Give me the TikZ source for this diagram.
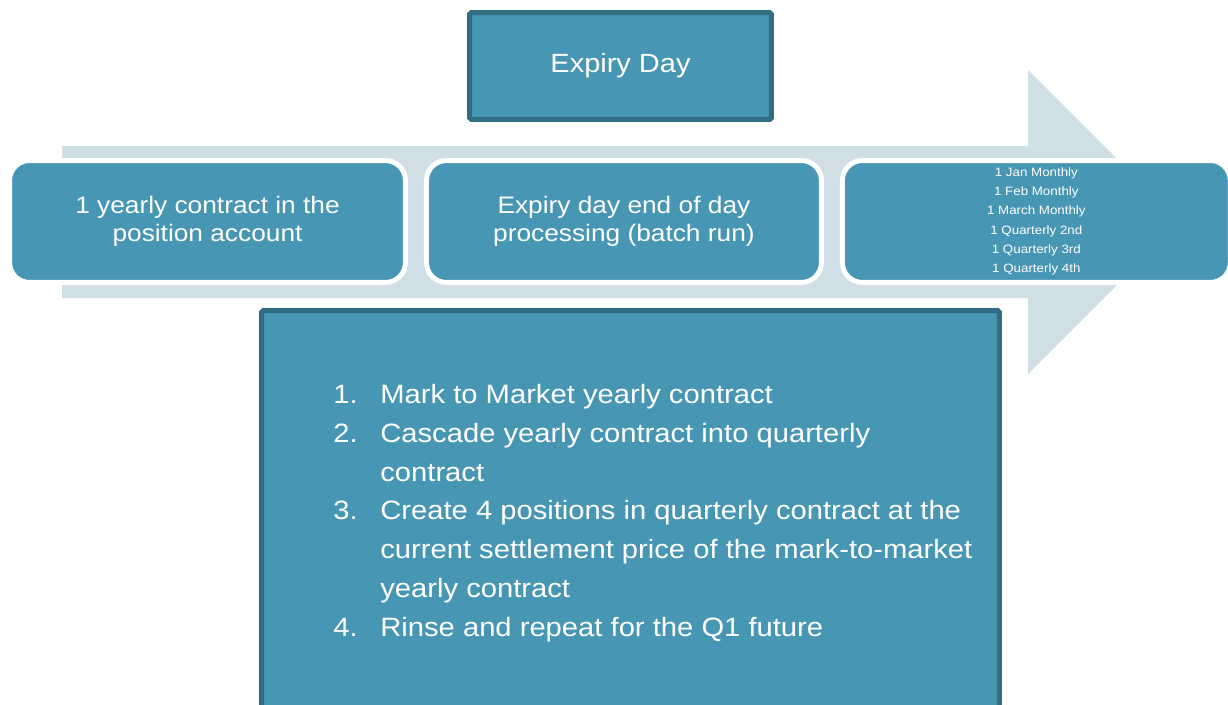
\documentclass[tikz,border=0pt]{standalone}
\usepackage{fontspec}
\setmainfont[FakeStretch=1.1]{Liberation Sans}
\usetikzlibrary{positioning}
\definecolor{stepblue}{RGB}{71,150,180}
\definecolor{stepedge}{RGB}{49,110,131}
\definecolor{arrowgrey}{RGB}{208,222,229}

\begin{document}
\begin{tikzpicture}[x=0.02cm, y=-0.02cm,
    stepbox/.style={draw=white, fill=stepblue, line width=0.1cm, rounded corners=0.4cm,
        minimum height=2.44cm, inner sep=2pt, align=center, text=white},
    edgebox/.style={draw=stepedge, fill=stepblue, line width=0.1cm, rounded corners=1pt,
        inner sep=0pt, text=white},
    listtext/.style={inner sep=0pt, align=left, text=white, font=\fontsize{15.1}{22.1}\selectfont}]
\clip (0,0) rectangle (1228,704);

% timeline arrow behind the steps
\fill[arrowgrey] (62,146) -- (1028,146) -- (1028,70) -- (1180,222) -- (1028,374)
    -- (1028,298) -- (62,298) -- cycle;

\node[stepbox, minimum width=7.92cm, font=\fontsize{13.6}{15.9}\selectfont] (yearly) at (207.5,221.5)
    {\rule{0pt}{0.12cm}1 yearly contract in the\\position account};
\node[stepbox, minimum width=7.9cm, right=0.32cm of yearly, font=\fontsize{13.6}{15.9}\selectfont] (batch)
    {\rule{0pt}{0.12cm}Expiry day end of day\\processing (batch run)};
\node[stepbox, minimum width=7.76cm, right=0.32cm of batch, font=\fontsize{6.9}{11}\selectfont] (cascade)
    {1 Jan Monthly\\1 Feb Monthly\\1 March Monthly\\1 Quarterly 2nd\\1 Quarterly 3rd\\1 Quarterly 4th};

\node[edgebox, minimum width=6.04cm, minimum height=2.14cm, font=\fontsize{15}{18}\selectfont] (expiry) at (620.5,66)
    {\raisebox{-0.06cm}{Expiry Day}};

\node[edgebox, minimum width=14.76cm, minimum height=8.19cm] (plan) at (630.5,515.25) {};
\node[listtext, anchor=west] (steps) at (333,513) {%
    \makebox[0.94cm][l]{1.}Mark to Market yearly contract\\
    \makebox[0.94cm][l]{2.}Cascade yearly contract into quarterly\\
    \hspace*{0.94cm}contract\\
    \makebox[0.94cm][l]{3.}Create 4 positions in quarterly contract at the\\
    \hspace*{0.94cm}current settlement price of the mark-to-market\\
    \hspace*{0.94cm}yearly contract\\
    \makebox[0.94cm][l]{4.}Rinse and repeat for the Q1 future};
\end{tikzpicture}
\end{document}
